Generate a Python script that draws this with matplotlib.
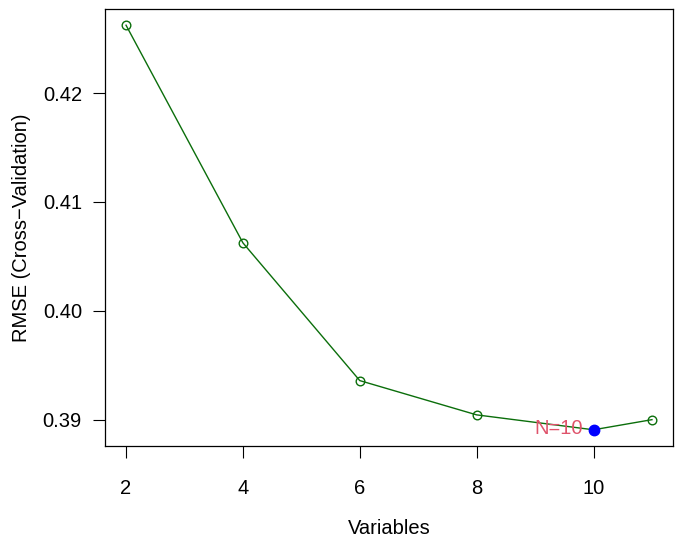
import matplotlib
matplotlib.use('Agg')
import matplotlib.pyplot as plt
from matplotlib.ticker import FormatStrFormatter

# RMSE (cross-validation) by number of variables
variables = [2, 4, 6, 8, 10, 11]
rmse = [0.42624, 0.40624, 0.39358, 0.39043, 0.38906, 0.38999]
best_n = 10
best_rmse = 0.38906
xticks = [2, 4, 6, 8, 10]
yticks = [0.39, 0.40, 0.41, 0.42]

plt.rcParams['font.family'] = ['Liberation Sans', 'DejaVu Sans']
plt.rcParams['font.size'] = 14.5

fig = plt.figure(figsize=(6.75, 5.42), dpi=100)
ax = fig.add_axes([105 / 675, (542 - 446) / 542, (673 - 105) / 675, (446 - 9) / 542])

ax.plot(variables, rmse, color='#0B6E0B', lw=1.0, marker='o', ms=6.2,
        mfc='none', mec='#0B6E0B', mew=1.0)
ax.plot([best_n], [best_rmse], 'o', color='#0000FF', ms=7.5)
ax.annotate('N=10', (best_n, best_rmse), xytext=(-8, 1), textcoords='offset points',
            ha='right', va='center', color='#DF536B', fontsize=14.5)

ax.set_xlim(1.64, 11.36)
ax.set_ylim(0.38757, 0.42773)
ax.set_xticks(xticks)
ax.set_yticks(yticks)
ax.yaxis.set_major_formatter(FormatStrFormatter('%.2f'))
ax.tick_params(axis='both', length=8.6, width=0.8, direction='out')
ax.tick_params(axis='x', pad=15)
ax.tick_params(axis='y', pad=8)
for s in ax.spines.values():
    s.set_linewidth(0.9)

fig.text(389 / 675, 1 - 528 / 542, 'Variables', ha='center', va='center', fontsize=14.5)
fig.text(22 / 675, 1 - 227.5 / 542, 'RMSE (Cross\u2212Validation)', ha='center', va='center',
         rotation=90, fontsize=14.5)

fig.savefig('out.png', dpi=100)
